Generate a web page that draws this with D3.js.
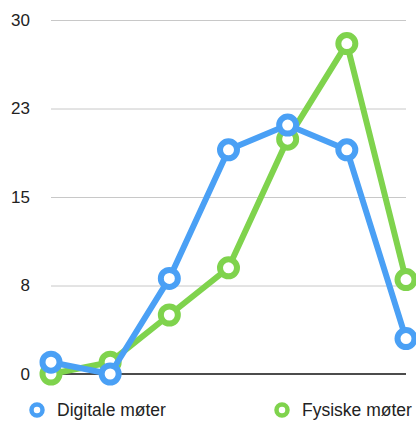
<html>
<head>
<script src="https://d3js.org/d3.v7.min.js"></script>
<style>
  body { margin: 0; background: white; }
  text { font-family: "Liberation Sans", Arial, sans-serif; fill: #222; }
  .gridlines .domain { stroke: none; }
  .gridlines line { stroke: #c8c8c8; }
</style>
</head>
<body>
<svg id="chart" width="416" height="421"></svg>
<script>
const points = ["1", "2", "3", "4", "5", "6", "7"];
const digitale = [1, 0, 8.1, 19, 21.1, 19, 3];
const fysiske = [0, 1, 5, 9, 19.9, 28, 8];
const yTicks = [0, 7.5, 15, 22.5, 30];
const seriesNames = ["Digitale møter", "Fysiske møter"];
const colors = ["#4aa0f5", "#7fd34d"];

const svg = d3.select("#chart");
const margin = { top: 20, right: 10, bottom: 47, left: 51 };
const chartWidth = 406 - margin.left;
const chartHeight = 374 - margin.top;

const xScale = d3.scalePoint().domain(points).range([margin.left, margin.left + chartWidth]);
const yScale = d3.scaleLinear().domain([0, 30]).range([margin.top + chartHeight, margin.top]);

// gridlines
svg.append("g")
  .attr("class", "gridlines")
  .attr("transform", `translate(${margin.left},0)`)
  .call(d3.axisLeft(yScale).tickValues(yTicks.slice(1)).tickSize(-chartWidth).tickFormat(""));

// y labels
svg.append("g").selectAll("text").data(yTicks)
  .join("text")
  .attr("x", 30)
  .attr("y", d => yScale(d))
  .attr("dy", "0.35em")
  .attr("text-anchor", "end")
  .style("font-size", "17px")
  .text(d => Math.round(d));

// baseline
svg.append("line")
  .attr("x1", margin.left).attr("x2", margin.left + chartWidth)
  .attr("y1", yScale(0)).attr("y2", yScale(0))
  .attr("stroke", "#111").attr("stroke-width", 1.5);

const lineGen = d3.line()
  .x((d, i) => xScale(points[i]))
  .y(d => yScale(d));

const series = [fysiske, digitale];
const seriesColors = [colors[1], colors[0]];

series.forEach((vals, k) => {
  const g = svg.append("g");
  g.append("path")
    .attr("d", lineGen(vals))
    .attr("fill", "none")
    .attr("stroke", seriesColors[k])
    .attr("stroke-width", 6)
    .attr("stroke-linejoin", "round");
  g.selectAll("circle").data(vals)
    .join("circle")
    .attr("cx", (d, i) => xScale(points[i]))
    .attr("cy", d => yScale(d))
    .attr("r", 8.5)
    .attr("fill", "white")
    .attr("stroke", seriesColors[k])
    .attr("stroke-width", 6);
});

// legend
const legendX = [37, 282];
const legend = svg.append("g").selectAll("g").data(seriesNames)
  .join("g")
  .attr("transform", (d, i) => `translate(${legendX[i]},410)`);
legend.append("circle")
  .attr("r", 5.5)
  .attr("fill", "white")
  .attr("stroke", (d, i) => colors[i])
  .attr("stroke-width", 4.5);
legend.append("text")
  .attr("x", 20)
  .attr("dy", "0.35em")
  .style("font-size", "17.5px")
  .text(d => d);
</script>
</body>
</html>
